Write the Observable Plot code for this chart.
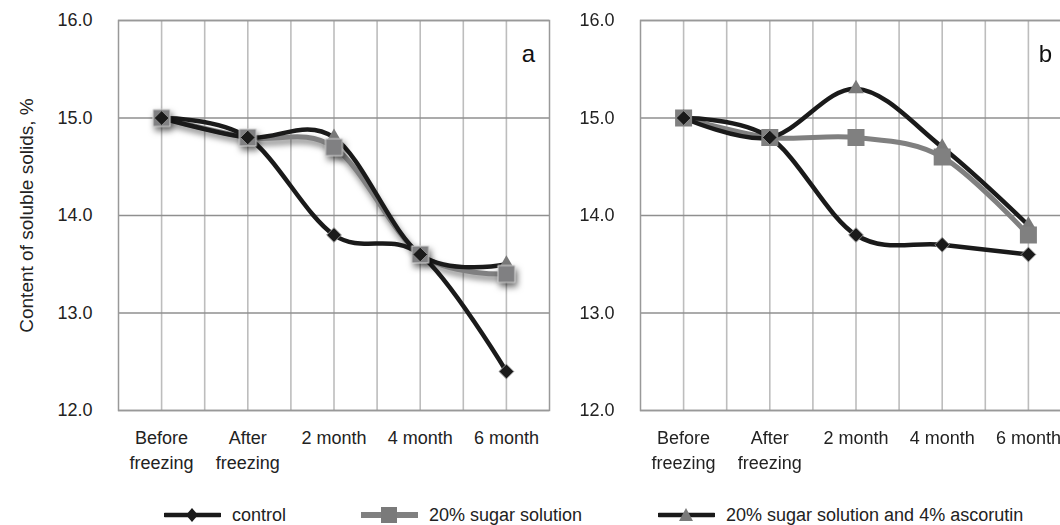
<!DOCTYPE html>
<html>
<head>
<meta charset="utf-8">
<script src="https://cdn.jsdelivr.net/npm/d3@7"></script>
<script src="https://cdn.jsdelivr.net/npm/@observablehq/plot@0.6"></script>
<style>
  html, body { margin: 0; padding: 0; background: #fff; overflow: hidden; }
  #wrap { position: relative; width: 1060px; height: 525px; overflow: hidden; background: #fff;
          font-family: "Liberation Sans", Arial, sans-serif; color: #222; }
  #pa { position: absolute; left: 0; top: 0; width: 560px; height: 480px; }
  #pb { position: absolute; left: 522px; top: 0; width: 560px; height: 480px; }
  #pa svg, #pb svg { max-width: none !important; display: block; }
  .leg { position: absolute; top: 504px; height: 22px; display: flex; align-items: center; font-size: 18px; white-space: nowrap; }
  .leg svg { display: block; margin-right: 11px; flex: none; }
</style>
</head>
<body>
<div id="wrap">
  <div id="pa"></div>
  <div id="pb"></div>
  <div id="legend"></div>
</div>
<script>
// ---- data ----
const stages = ["Before\nfreezing", "After\nfreezing", "2 month", "4 month", "6 month"];
const yTicks = [12, 13, 14, 15, 16];
const seriesNames = ["control", "20% sugar solution", "20% sugar solution and 4% ascorutin"];

// panel a
const controlA = [15.0, 14.8, 13.8, 13.6, 12.4];
const sugarA   = [15.0, 14.8, 14.7, 13.6, 13.4];
const ascA     = [15.0, 14.8, 14.8, 13.6, 13.5];
// panel b
const controlB = [15.0, 14.8, 13.8, 13.7, 13.6];
const sugarB   = [15.0, 14.8, 14.8, 14.6, 13.8];
const ascB     = [15.0, 14.8, 15.3, 14.7, 13.9];

const FONT = "'Liberation Sans', Arial, sans-serif";
const BLACK = "#1a1a1a";
const GREY = "#808080";

function panel(control, sugar, asc, tag, tagDx, shadow, withTitle) {
  const rows = vals => vals.map((v, i) => ({i, v}));
  const sugarStroke = shadow ? "#808081" : GREY;
  const sugarFill = shadow ? "#808082" : GREY;
  const marks = [
    Plot.gridX(d3.range(0, 4.01, 0.5), {stroke: "#bdbdbd", strokeOpacity: 1, strokeWidth: 1.6}),
    Plot.gridY(yTicks, {stroke: "#8f8f8f", strokeOpacity: 1, strokeWidth: 1.5}),
    Plot.frame({stroke: "#999", strokeWidth: 1.5}),
    Plot.axisY({ticks: yTicks, tickSize: 0, tickPadding: 26, tickFormat: d => d.toFixed(1), fontSize: 18, label: null, fill: "#222"}),
    Plot.axisX({ticks: d3.range(stages.length), tickSize: 0, tickPadding: 16, tickFormat: i => stages[i], lineHeight: 1.38, fontSize: 18, label: null, fill: "#222"}),
    Plot.line(rows(sugar), {x: "i", y: "v", stroke: sugarStroke, strokeWidth: 5, curve: "cardinal"}),
    Plot.line(rows(control), {x: "i", y: "v", stroke: BLACK, strokeWidth: 4.5, curve: "cardinal"}),
    Plot.line(rows(asc), {x: "i", y: "v", stroke: BLACK, strokeWidth: 4.5, curve: "cardinal"}),
    Plot.dot(rows(asc), {x: "i", y: "v", symbol: "triangle2", r: 7.5, fill: "#7a7a7a", stroke: "none"}),
    Plot.dot(rows(sugar), {x: "i", y: "v", symbol: "square", r: 9.6, fill: sugarFill, stroke: shadow ? "#d8d8d8" : "none", strokeWidth: 1}),
    Plot.dot(rows(control), {x: "i", y: "v", symbol: "diamond2", r: 6.6, fill: BLACK, stroke: "#8a8a8a", strokeWidth: 1}),
    Plot.text([tag], {frameAnchor: "top-right", textAnchor: "middle", lineAnchor: "middle", dx: tagDx, dy: 34, fontSize: 24, fill: "#111"})
  ];
  if (withTitle) {
    marks.push(Plot.text(["Content of soluble solids, %"], {frameAnchor: "left", rotate: -90, textAnchor: "middle", lineAnchor: "middle", dx: -92, fontSize: 19, fill: "#222"}));
  }
  const svg = Plot.plot({
    width: 560, height: 480,
    marginLeft: 118, marginRight: 11, marginTop: 20, marginBottom: 70,
    x: {domain: [-0.5, 4.5], axis: null},
    y: {domain: [12, 16], axis: null},
    style: {fontFamily: FONT, fontSize: "18px", color: "#222", background: "transparent", overflow: "visible", maxWidth: "none"},
    marks
  });
  if (shadow) {
    d3.select(svg).selectAll('[stroke="#808081"], [fill="#808082"]')
      .style("filter", "drop-shadow(2px 4px 3px rgba(0,0,0,0.55))");
  }
  return svg;
}

document.getElementById("pa").appendChild(panel(controlA, sugarA, ascA, "a", -21, true, true));
document.getElementById("pb").appendChild(panel(controlB, sugarB, ascB, "b", -26, false, false));

// ---- legend ----
const legendItems = [
  {name: seriesNames[0], left: 164, line: BLACK, lw: 4.5, sym: "diamond"},
  {name: seriesNames[1], left: 361, line: GREY, lw: 6, sym: "square"},
  {name: seriesNames[2], left: 658, line: BLACK, lw: 4.5, sym: "triangle"}
];
const legend = document.getElementById("legend");
for (const it of legendItems) {
  const div = document.createElement("div");
  div.className = "leg";
  div.style.left = it.left + "px";
  let m = "";
  if (it.sym === "diamond") m = `<path d="M28,4 L34,11 L28,18 L22,11 Z" fill="${BLACK}"/>`;
  if (it.sym === "square") m = `<rect x="20" y="3" width="16" height="16" fill="#7a7a7a"/>`;
  if (it.sym === "triangle") m = `<path d="M28,4 L35,17 L21,17 Z" fill="#7a7a7a"/>`;
  div.innerHTML = `<svg width="57" height="22"><line x1="1" x2="56" y1="11" y2="11" stroke="${it.line}" stroke-width="${it.lw}" stroke-linecap="round"/>${m}</svg><span>${it.name}</span>`;
  legend.appendChild(div);
}
</script>
</body>
</html>
